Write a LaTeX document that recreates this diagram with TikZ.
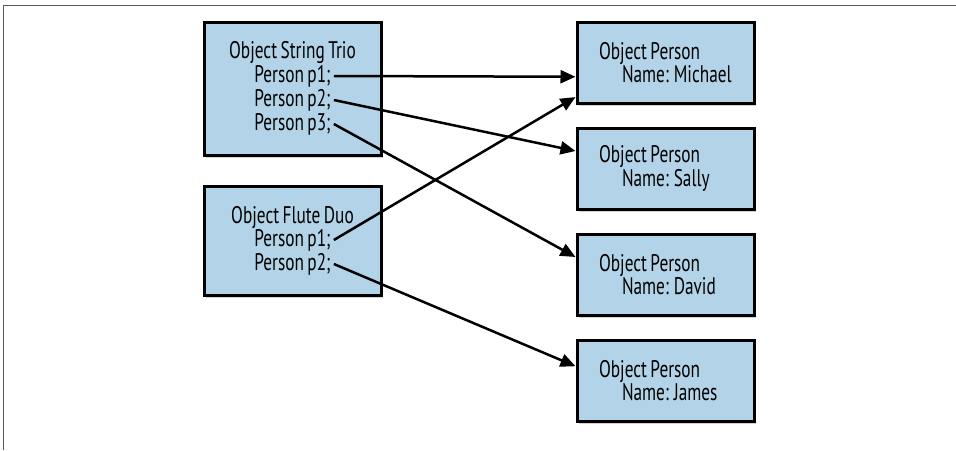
\documentclass[tikz,border=0pt]{standalone}
\usepackage{fontspec}
\setmainfont{PT Sans}[FakeStretch=0.72,WordSpace={0.75,0,0}]
\usetikzlibrary{arrows.meta,shadows,calc}
\definecolor{objblue}{RGB}{179,212,232}

\begin{document}
\begin{tikzpicture}[x=1pt,y=-1pt,
    objbox/.style={draw=black, line width=3pt, fill=objblue,
      minimum width=177pt, inner sep=0pt,
      drop shadow={shadow xshift=2pt, shadow yshift=-3pt, opacity=0.35}},
    personbox/.style={objbox, minimum height=81pt, align=flush left,
      text width=133pt, inner xsep=22pt},
    txt/.style={inner sep=3pt, font=\fontsize{24}{24}\selectfont},
    ref/.style={line width=2.5pt, -{Triangle[length=15pt,width=13pt]}}]
  \useasboundingbox (0,0) rectangle (956,450);
  \draw[black!65, line width=1pt] (3,450) -- (3,5) -- (956,5);

  % the two ensembles
  \node[objbox, minimum height=133pt] (trio) at (292.5,88.5) {};
  \node[txt] (triotitle) at (292.5,52) {Object String Trio};
  \node[txt] (triop1) at (292.5,76) {Person p1;};
  \node[txt] (triop2) at (292.5,100) {Person p2;};
  \node[txt] (triop3) at (292.5,124) {Person p3;};

  \node[objbox, minimum height=109pt] (duo) at (292.5,240.5) {};
  \node[txt] (duotitle) at (292.5,217) {Object Flute Duo};
  \node[txt] (duop1) at (292.5,240) {Person p1;};
  \node[txt] (duop2) at (292.5,264) {Person p2;};

  % the persons
  \begin{scope}[font=\fontsize{24}{23.5}\selectfont]
    \node[personbox] (michael) at (665.5,62.5) {Object Person\\\hspace*{23pt}\mbox{Name: Michael}};
    \node[personbox] (sally) at (665.5,168.5) {Object Person\\\hspace*{23pt}\mbox{Name: Sally}};
    \node[personbox] (david) at (665.5,274.5) {Object Person\\\hspace*{23pt}\mbox{Name: David}};
    \node[personbox] (james) at (665.5,380.5) {Object Person\\\hspace*{23pt}\mbox{Name: James}};
  \end{scope}

  % references
  \draw[ref] (triop1.east) -- (michael.189);
  \draw[ref] (triop2.east) -- (sally.169);
  \draw[ref] (triop3.east) -- (david.169);
  \draw[ref] (duop1.east) -- (michael.201);
  \draw[ref] (duop2.east) -- (james.171);
\end{tikzpicture}
\end{document}
